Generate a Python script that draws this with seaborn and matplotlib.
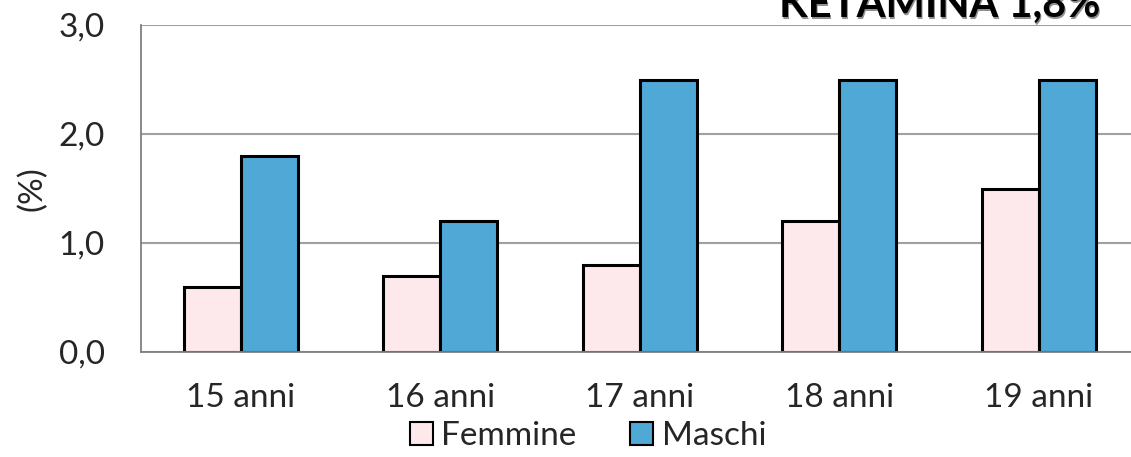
import pandas as pd
import numpy as np
import matplotlib.pyplot as plt
import seaborn as sns
from matplotlib.patches import Patch

# data
categories = ['15 anni', '16 anni', '17 anni', '18 anni', '19 anni']
femmine = [0.6, 0.7, 0.8, 1.2, 1.5]
maschi = [1.8, 1.2, 2.5, 2.5, 2.5]
series = ['Femmine', 'Maschi']
title = 'KETAMINA 1,8%'

df = pd.DataFrame({
    'eta': categories * 2,
    'sesso': ['Femmine'] * len(categories) + ['Maschi'] * len(categories),
    'valore': femmine + maschi,
})

sns.set_style('white')
plt.rcParams['font.family'] = ['Lato', 'DejaVu Sans']

fig = plt.figure(figsize=(11.31, 4.57), dpi=100)
ax = fig.add_axes([141 / 1131, 105 / 457, 997.5 / 1131, 327 / 457])

palette = {'Femmine': '#fde9ec', 'Maschi': '#4fa8d5'}
sns.barplot(data=df, x='eta', y='valore', hue='sesso', hue_order=series,
            order=categories, palette=palette, width=0.572, dodge=True,
            edgecolor='black', linewidth=2.2, saturation=1, ax=ax, legend=False)

ax.set_xlim(-0.5, 4.5)
ax.set_ylim(0, 3.0)
ax.set_yticks([0, 1, 2, 3])
ax.set_yticklabels(['0,0', '1,0', '2,0', '3,0'], fontsize=24)
ax.set_xticks(range(len(categories)))
ax.set_xticklabels(categories, fontsize=24)
ax.set_xticks(np.arange(-0.5, 4.6, 1), minor=True)
ax.tick_params(axis='x', which='major', length=0, pad=22)
ax.tick_params(axis='x', which='minor', length=10, width=1.3, color='#808080', direction='out')
ax.tick_params(axis='y', length=12, width=1.3, color='#808080', direction='out', pad=14)
ax.set_xlabel('')
ax.set_ylabel('(%)', fontsize=24, labelpad=8)

ax.yaxis.grid(True, color='#a0a0a0', linewidth=1.5)
ax.set_axisbelow(True)
for side in ['top', 'right']:
    ax.spines[side].set_visible(False)
for side in ['left', 'bottom']:
    ax.spines[side].set_color('#808080')
    ax.spines[side].set_linewidth(1.3)

# legend below the categories
handles = [Patch(facecolor=palette[s], edgecolor='black', linewidth=1.5) for s in series]
fig.legend(handles, series, loc='center', bbox_to_anchor=(588 / 1131, 1 - 436 / 457),
           ncol=2, frameon=False, fontsize=24, handlelength=0.7, handleheight=0.7,
           handletextpad=0.25, columnspacing=1.6, borderaxespad=0)

# title, clipped by the top edge as in the reference
fig.text(1100 / 1131 + 0.0015, 1 - 17 / 457 - 0.004, title, ha='right', va='baseline',
         fontsize=30, fontweight='bold', color='#909090')
fig.text(1100 / 1131, 1 - 17 / 457, title, ha='right', va='baseline',
         fontsize=30, fontweight='bold', color='black')

fig.savefig('out.png', dpi=100)
